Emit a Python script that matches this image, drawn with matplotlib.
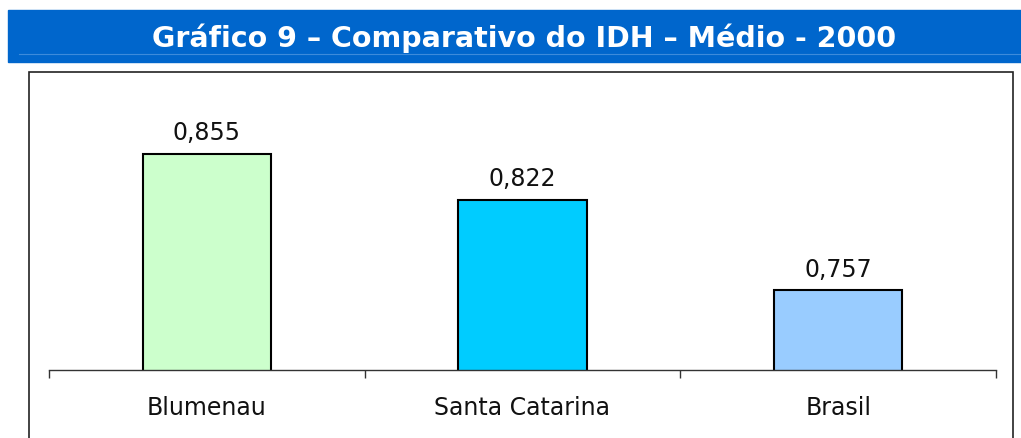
import matplotlib.pyplot as plt
from matplotlib.patches import Rectangle

# dados do gráfico
categorias = ['Blumenau', 'Santa Catarina', 'Brasil']
idh = [0.855, 0.822, 0.757]
rotulos = ['0,855', '0,822', '0,757']
cores = ['#CCFFCC', '#00CCFF', '#99CCFF']
titulo = 'Gráfico 9 – Comparativo do IDH – Médio - 2000'

W, H = 1021, 439
fig = plt.figure(figsize=(W / 100, H / 100), dpi=100)

# faixa azul do título
fig.patches.append(Rectangle((8 / W, 1 - 63 / H), 1 - 8 / W, 52 / H,
                             transform=fig.transFigure, color='#0066CC', zorder=0))
fig.lines.append(plt.Line2D([19 / W, 1], [1 - 55 / H, 1 - 55 / H],
                            transform=fig.transFigure, color='#3D8BDB', lw=0.8))
fig.text(524 / W, 1 - 38 / H, titulo, color='white', fontsize=20.5,
         fontweight='bold', ha='center', va='center')

# moldura
fig.patches.append(Rectangle((29 / W, -0.1), (1013 - 29) / W, 0.1 + 1 - 73 / H,
                             transform=fig.transFigure, fill=False,
                             edgecolor='#222222', lw=1.2))

ax = fig.add_axes([49 / W, 68 / H, (996 - 49) / W, (371 - 92) / H])
x = range(len(categorias))
ax.bar(x, idh, width=0.406, color=cores, edgecolor='black', linewidth=1.5,
       bottom=0, zorder=2)
ax.set_ylim(0.7, 0.9)
ax.set_xlim(-0.5, 2.5)

for i, v in enumerate(idh):
    ax.annotate(rotulos[i], (i, v), xytext=(0, 7), textcoords='offset points',
                ha='center', va='bottom', fontsize=17, color='#111111')

for s in ['top', 'right', 'left']:
    ax.spines[s].set_visible(False)
ax.spines['bottom'].set_color('#333333')
ax.spines['bottom'].set_linewidth(1.0)
ax.set_yticks([])
ax.set_xticks(list(x))
ax.set_xticklabels(categorias, fontsize=17, color='#111111')
ax.tick_params(axis='x', which='major', length=0, pad=18)
ax.set_xticks([-0.5, 0.5, 1.5, 2.5], minor=True)
ax.tick_params(axis='x', which='minor', length=6, width=1.0, color='#333333')
ax.patch.set_visible(False)

fig.savefig('out.png', dpi=100)
